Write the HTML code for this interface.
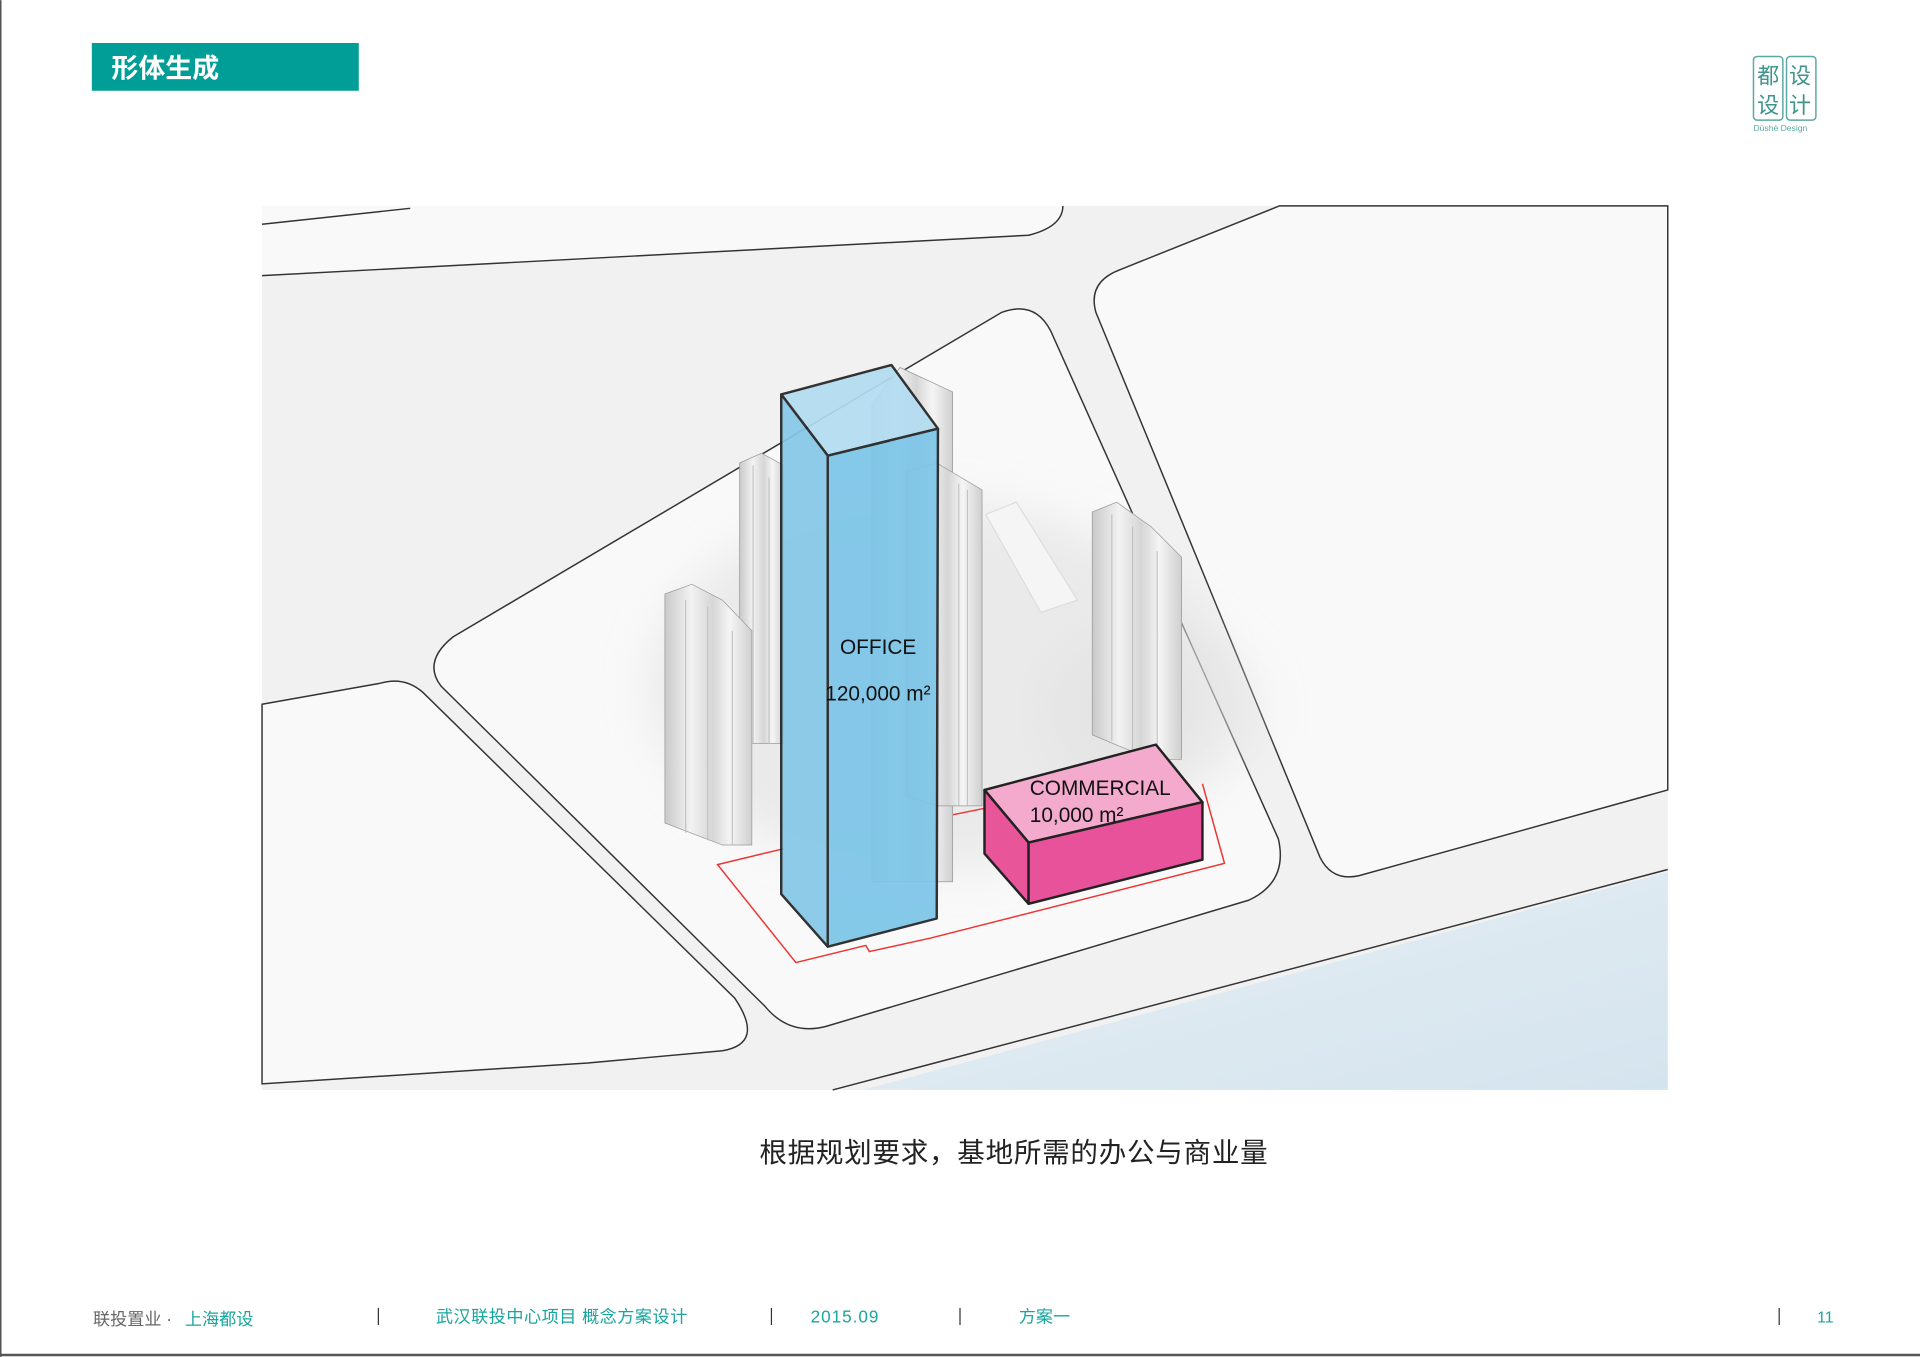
<!DOCTYPE html>
<html><head><meta charset="utf-8"><style>
html,body{margin:0;padding:0;background:#fff;}
svg{display:block;}
text{font-family:"Liberation Sans","Noto Sans CJK SC",sans-serif;}
</style></head><body>
<svg width="1920" height="1357" viewBox="0 0 1568 1108" xmlns="http://www.w3.org/2000/svg">
<defs>
<filter id="bl" x="-50%" y="-50%" width="200%" height="200%"><feGaussianBlur stdDeviation="18"/></filter>
<linearGradient id="tw" x1="0" x2="1" y1="0" y2="0">
<stop offset="0" stop-color="#c9c9c9"/><stop offset="0.3" stop-color="#f2f2f2"/><stop offset="0.55" stop-color="#d6d6d6"/><stop offset="0.75" stop-color="#f5f5f5"/><stop offset="1" stop-color="#cfcfcf"/></linearGradient>
<linearGradient id="wat" x1="0" y1="0" x2="1" y2="1"><stop offset="0" stop-color="#e8eff4"/><stop offset="1" stop-color="#d4e4ee"/></linearGradient>
</defs>
<rect width="1568" height="1108" fill="#fff"/>
<line x1="0.5" y1="0" x2="0.5" y2="1108" stroke="#555" stroke-width="1.5"/>
<line x1="0" y1="1106.5" x2="1568" y2="1106.5" stroke="#555" stroke-width="2"/>
<rect x="75" y="35" width="218" height="39" fill="#009e96"/>
<text x="91" y="63" font-size="22" font-weight="bold" fill="#fff">形体生成</text>
<g fill="none" stroke="#5aa8a2" stroke-width="1.2">
<rect x="1432" y="46" width="24" height="52" rx="3"/><rect x="1459" y="46" width="24" height="52" rx="3"/></g>
<g font-size="18" fill="#3f948d" font-family="'Noto Serif CJK SC',serif">
<text x="1435" y="68">都</text><text x="1461" y="68">设</text><text x="1435" y="92">设</text><text x="1461" y="92">计</text></g>
<text x="1432" y="107" font-size="7" fill="#5aa8a2">Dūshè Design</text>
<g>
<rect x="214" y="168" width="1148" height="722" fill="#f1f1f1"/>
<polygon points="705,890 1362,712 1362,890" fill="url(#wat)"/>
<g fill="#f9f9f9" stroke="#333" stroke-width="1.2">
<path d="M214,168 L868,168 Q870,185 845,192 L214,225 Z" stroke="none"/>
<path d="M214,225 L840,192 Q868,185 868,168" fill="none"/>
<path d="M214,183 L335,170" fill="none"/>
<path d="M370,520 L818,255 Q845,245 858,270 L1044,685 Q1052,720 1020,735 L675,838 Q645,846 625,822 L360,560 Q345,540 370,520 Z"/>
<path d="M214,575 L310,558 Q330,552 345,565 L600,815 Q625,852 590,858 L480,868 L214,885 Z" />
<path d="M895,255 Q888,230 915,220 L1045,168 L1362,168 L1362,645 L1110,715 Q1088,720 1078,700 Z"/>
<path d="M680,890 L1362,710" fill="none"/>
</g>
<ellipse cx="760" cy="560" rx="230" ry="150" fill="#dedede" opacity="0.55" filter="url(#bl)"/>
<ellipse cx="940" cy="580" rx="90" ry="70" fill="#e0e0e0" opacity="0.5" filter="url(#bl)"/>
<polyline points="640,693 586,706 650,786 707,772 710,777 760,766 1000,705 982,640" fill="none" stroke="#e33" stroke-width="1.2"/>
<polyline points="765,668 804,660" fill="none" stroke="#e33" stroke-width="1.2"/>
<polygon points="805,420 830,410 880,490 850,500" fill="#f5f5f5" stroke="#ddd"/>
<g stroke="#999" stroke-width="0.6">
<path d="M712,330 L735,300 L778,320 L778,720 L712,720 Z" fill="url(#tw)"/>
<path d="M604,378 L622,370 L640,380 L640,607 L604,607 Z" fill="url(#tw)"/>
<path d="M740,385 L765,378 L802,400 L802,658 L765,658 L740,650 Z" fill="url(#tw)"/>
<path d="M543,485 L565,477 L590,490 L614,515 L614,690 L590,690 L543,672 Z" fill="url(#tw)"/>
<path d="M892,418 L912,410 L940,430 L965,455 L965,620 L940,620 L892,600 Z" fill="url(#tw)"/>
</g>
<g stroke="#bbb" stroke-width="0.8">
<line x1="560" y1="490" x2="560" y2="680"/><line x1="578" y1="495" x2="578" y2="686"/><line x1="598" y1="515" x2="598" y2="690"/>
<line x1="615" y1="380" x2="615" y2="607"/><line x1="628" y1="390" x2="628" y2="607"/>
<line x1="783" y1="395" x2="783" y2="658"/><line x1="790" y1="400" x2="790" y2="658"/>
<line x1="908" y1="420" x2="908" y2="605"/><line x1="925" y1="430" x2="925" y2="612"/><line x1="945" y1="450" x2="945" y2="620"/>
</g>
<g stroke="#222" stroke-width="2" stroke-linejoin="round" opacity="0.92">
<polygon points="638,322 728,298 766,350 676,372" fill="#b3dcf2"/>
<polygon points="638,322 676,372 676,773 638,730" fill="#85c8e8"/>
<polygon points="676,372 766,350 765,750 676,773" fill="#7cc5e8"/>
</g>
<g stroke="#222" stroke-width="2" stroke-linejoin="round">
<polygon points="804,645 944,608 982,655 840,688" fill="#f3aacd"/>
<polygon points="804,645 840,688 840,738 804,697" fill="#e85599"/>
<polygon points="840,688 982,655 982,702 840,738" fill="#e8529a"/>
</g>
<g fill="#111" font-size="17">
<text x="686" y="534">OFFICE</text>
<text x="674" y="572">120,000 m²</text>
<text x="841" y="649">COMMERCIAL</text>
<text x="841" y="671">10,000 m²</text>
</g>
</g>
<text x="828" y="949" font-size="22.5" fill="#222" text-anchor="middle" letter-spacing="0.6">根据规划要求，基地所需的办公与商业量</text>
<g font-size="14" fill="#1aa59e">
<text x="76" y="1082" fill="#666">联投置业 ·</text>
<text x="151" y="1082">上海都设</text>
<text x="356" y="1080" letter-spacing="0.4">武汉联投中心项目 概念方案设计</text>
<text x="662" y="1080" letter-spacing="0.8">2015.09</text>
<text x="832" y="1080">方案一</text>
<text x="1484" y="1080" font-size="13">11</text>
</g>
<g stroke="#333" stroke-width="1"><line x1="309" y1="1068" x2="309" y2="1082"/><line x1="630" y1="1068" x2="630" y2="1082"/><line x1="784" y1="1068" x2="784" y2="1082"/><line x1="1453" y1="1068" x2="1453" y2="1082"/></g>
</svg>
</body></html>
